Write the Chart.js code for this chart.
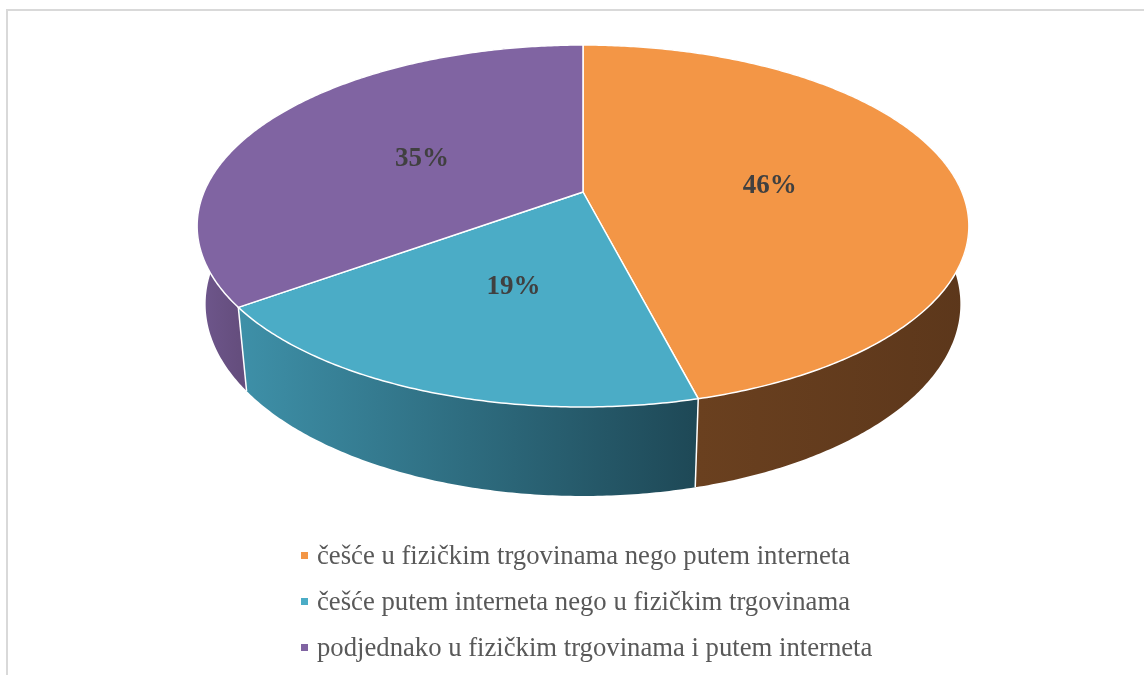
<!DOCTYPE html>
<html>
<head>
<meta charset="utf-8">
<script src="https://cdn.jsdelivr.net/npm/chart.js@4.4.0/dist/chart.umd.min.js"></script>
<style>
  html, body { margin: 0; padding: 0; background: #fff; overflow: hidden; }
  body { width: 1144px; height: 675px; position: relative; }
  #okvir { position: absolute; left: 6px; top: 9px; width: 1200px; height: 700px; border-left: 2px solid #d9d9d9; border-top: 2px solid #d9d9d9; }
  #grafik { position: absolute; left: 0; top: 0; }
  #legenda { position: absolute; left: 301px; top: 533px; font-family: "Liberation Serif", "Times New Roman", serif; font-size: 26.7px; color: #595959; }
  .stavka { height: 45.7px; display: flex; align-items: center; white-space: nowrap; }
  .kvadrat { width: 7px; height: 7px; margin-right: 9px; flex: none; }
</style>
</head>
<body>
<div id="okvir"></div>
<canvas id="grafik" width="1144" height="675"></canvas>
<div id="legenda"></div>
<script>
// podaci
const kategorije = [
  "češće u fizičkim trgovinama nego putem interneta",
  "češće putem interneta nego u fizičkim trgovinama",
  "podjednako u fizičkim trgovinama i putem interneta",
];
const procenti = [46, 19, 35];

// boje: gornja ploha i zid (lijevo, desno)
const bojeVrh = ["#F39646", "#4BACC6", "#8064A2"];
const bojeZid = [
  ["#6A401F", "#5C371B"],
  ["#3E90A8", "#1E4856"],
  ["#6F578D", "#654E7E"],
];

// perspektiva 3D pite
const proj = { cx: 583, cy: 192, kx: 379, ky: 174.6, persp: 0.18785, vpY: 3800, dubina: 0.0213 };

function tacka(ugao, rho, dole) {
  const X = rho * Math.cos(ugao);
  const Z = rho * Math.sin(ugao);
  const d = 1 - proj.persp * Z;
  let x = proj.cx + (proj.kx * X) / d;
  let y = proj.cy + (proj.ky * Z) / d;
  if (dole) {
    const t = proj.dubina / d;
    x += (proj.cx - x) * t;
    y += (proj.vpY - y) * t;
  }
  return [x, y];
}

function putanjaLuka(ctx, a0, a1, dole, nastavi) {
  const n = Math.max(2, Math.ceil(Math.abs(a1 - a0) / 0.01));
  for (let k = 0; k <= n; k++) {
    const a = a0 + ((a1 - a0) * k) / n;
    const p = tacka(a, 1, dole);
    if (k === 0 && !nastavi) ctx.moveTo(p[0], p[1]);
    else ctx.lineTo(p[0], p[1]);
  }
}

const pita3d = {
  id: "pita3d",
  beforeDatasetsDraw(chart) {
    const ctx = chart.ctx;
    const meta = chart.getDatasetMeta(0);
    const lukovi = meta.data.map((el) => el.getProps(["startAngle", "endAngle"], true));

    ctx.save();

    // zidovi
    lukovi.forEach((l, i) => {
      let minX = Infinity, maxX = -Infinity;
      for (let a = l.startAngle; a <= l.endAngle; a += 0.01) {
        if (Math.sin(a) > 0) {
          const p = tacka(a, 1, false);
          minX = Math.min(minX, p[0]);
          maxX = Math.max(maxX, p[0]);
        }
      }
      if (minX === Infinity) return;
      const grad = ctx.createLinearGradient(minX, 0, maxX, 0);
      grad.addColorStop(0, bojeZid[i][0]);
      grad.addColorStop(1, bojeZid[i][1]);
      ctx.beginPath();
      putanjaLuka(ctx, l.startAngle, l.endAngle, false, false);
      putanjaLuka(ctx, l.endAngle, l.startAngle, true, true);
      ctx.closePath();
      ctx.fillStyle = grad;
      ctx.fill();
    });

    // bijele linije na zidu
    ctx.strokeStyle = "#ffffff";
    ctx.lineWidth = 1.5;
    lukovi.forEach((l) => {
      if (Math.sin(l.startAngle) > 0.1) {
        const g = tacka(l.startAngle, 1, false);
        const d = tacka(l.startAngle, 1, true);
        ctx.beginPath();
        ctx.moveTo(g[0], g[1]);
        ctx.lineTo(d[0], d[1]);
        ctx.stroke();
      }
    });

    // gornje plohe
    const c = tacka(0, 0, false);
    lukovi.forEach((l, i) => {
      ctx.beginPath();
      ctx.moveTo(c[0], c[1]);
      putanjaLuka(ctx, l.startAngle, l.endAngle, false, true);
      ctx.closePath();
      ctx.fillStyle = bojeVrh[i];
      ctx.fill();
      ctx.lineJoin = "round";
      ctx.stroke();
    });

    // oznake
    ctx.fillStyle = "#404040";
    ctx.font = "bold 27px 'Liberation Serif', 'Times New Roman', serif";
    ctx.textAlign = "center";
    ctx.textBaseline = "middle";
    lukovi.forEach((l, i) => {
      const p = tacka((l.startAngle + l.endAngle) / 2, 0.5, false);
      ctx.fillText(procenti[i] + "%", p[0] + 1, p[1] + 5);
    });

    ctx.restore();
    return false;
  },
};

new Chart(document.getElementById("grafik"), {
  type: "pie",
  data: {
    labels: kategorije,
    datasets: [{ data: procenti, backgroundColor: bojeVrh, borderColor: "#ffffff" }],
  },
  options: {
    responsive: false,
    animation: false,
    plugins: { legend: { display: false }, tooltip: { enabled: false } },
  },
  plugins: [pita3d],
});

// legenda
const legenda = document.getElementById("legenda");
for (let i = 0; i < kategorije.length; i++) {
  legenda.innerHTML += `<div class="stavka"><span class="kvadrat" style="background:${bojeVrh[i]}"></span>${kategorije[i]}</div>`;
}
</script>
</body>
</html>
